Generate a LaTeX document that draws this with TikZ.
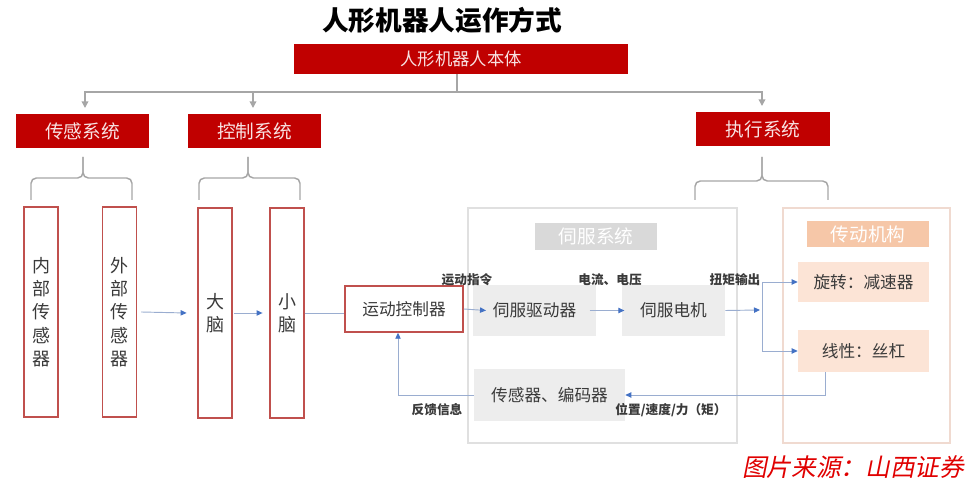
\documentclass[tikz,border=0pt]{standalone}
\usepackage{fontspec}
\setmainfont{Noto Sans CJK SC}
\newfontfamily\srcfont[FakeSlant=0.2]{Noto Sans CJK SC}
\usetikzlibrary{arrows.meta}
\definecolor{hdred}{HTML}{C00000}
\definecolor{hdtext}{HTML}{F8E2E2}
\definecolor{tallred}{HTML}{C0504D}
\definecolor{linegray}{HTML}{A6A6A6}
\definecolor{servoline}{HTML}{E0E0E0}
\definecolor{servohead}{HTML}{D9D9D9}
\definecolor{servofill}{HTML}{EDEDED}
\definecolor{transline}{HTML}{F0DAD0}
\definecolor{transhead}{HTML}{F6C7A8}
\definecolor{transfill}{HTML}{FCE4D6}
\definecolor{bluelink}{HTML}{9AADD0}
\definecolor{bluetip}{HTML}{4472C4}
\definecolor{darktext}{HTML}{3A3A3A}
\definecolor{srcred}{HTML}{E00000}

\begin{document}
\begin{tikzpicture}[x=0.75pt,y=-0.75pt,
    redhead/.style={fill=hdred, text=hdtext, inner sep=0pt, minimum height=25.5pt,
        font=\fontsize{14}{16}\selectfont},
    tallbox/.style={draw=tallred, line width=1.1pt, fill=white, inner sep=0pt,
        minimum width=25.5pt, minimum height=157.5pt, align=center, text=darktext,
        font=\fontsize{13.5}{17.5}\selectfont},
    servobox/.style={fill=servofill, inner sep=0pt, text=darktext,
        minimum height=38.25pt, font=\fontsize{12.5}{15}\selectfont},
    transbox/.style={fill=transfill, inner sep=0pt, text=darktext,
        minimum width=98.25pt, font=\fontsize{12.5}{15}\selectfont},
    sigtext/.style={text=darktext, inner sep=0pt, font=\bfseries\fontsize{9.5}{11}\selectfont},
    brace/.style={draw=linegray, line width=1.1pt, rounded corners=4pt},
    gline/.style={draw=linegray, line width=1.1pt},
    garrow/.style={gline, -{Triangle[length=5pt,width=5pt]}, shorten >=4.5pt},
    bline/.style={draw=bluelink, line width=0.7pt},
    barrow/.style={bline, -{Triangle[length=4.5pt,width=4pt,color=bluetip]}}]
    \useasboundingbox (0,0) rectangle (976,484);

    %% title and the three systems
    \node (title) at (442,20) {\bfseries\fontsize{20}{22}\selectfont 人形机器人运作方式};
    \node[redhead, minimum width=250.5pt, minimum height=22.5pt,
        font=\fontsize{13}{15}\selectfont] (body) at (461,59) {人形机器人本体};
    \node[redhead, minimum width=99.75pt] (sense) at (82.5,131) {传感系统};
    \node[redhead, minimum width=99.75pt] (ctrl) at (254.5,131) {控制系统};
    \node[redhead, minimum width=100.5pt] (exec) at (763,129) {执行系统};

    \coordinate (bus) at (457,92);
    \draw[gline] (body.south -| bus) -- (bus);
    \draw[garrow] (bus) -| (85,114);
    \draw[garrow] (bus) -| (253,114);
    \draw[garrow] (bus) -| (762,112);

    %% braces
    \draw[brace] (31,200) |- (83,178) -- (83,157);
    \draw[brace] (132,200) |- (83,178) -- (83,157);
    \draw[brace] (199,200) |- (248,178) -- (248,157);
    \draw[brace] (300,200) |- (248,178) -- (248,157);
    \draw[brace] (695,200) |- (762,181) -- (762,157);
    \draw[brace] (828,200) |- (762,181) -- (762,157);

    %% sensing and control columns
    \node[tallbox] (inner) at (41,312) {内\\部\\传\\感\\器};
    \node[tallbox] (outer) at (119.5,312) {外\\部\\传\\感\\器};
    \node[tallbox] (brain) at (215,313) {大\\脑};
    \node[tallbox] (cereb) at (287,313) {小\\脑};

    %% servo system
    \node[draw=servoline, line width=0.8pt, minimum width=201.75pt, minimum height=176.25pt,
        inner sep=0pt] (servo) at (602.5,325.5) {};
    \node[fill=servohead, text=white, inner sep=0pt, minimum width=91.5pt, minimum height=20.25pt,
        font=\fontsize{14}{16}\selectfont] (servohd) at (596,236.5) {伺服系统};
    \node[draw=tallred, line width=1.1pt, fill=white, inner sep=0pt, minimum width=88.5pt,
        minimum height=34.5pt, text=darktext, font=\fontsize{12.5}{15}\selectfont] (motion) at (404,309) {运动控制器};
    \node[servobox, minimum width=92.25pt] (drive) at (534.5,310.5) {伺服驱动器};
    \node[servobox, minimum width=77.25pt] (motor) at (673.5,310.5) {伺服电机};
    \node[servobox, minimum width=113.25pt, minimum height=39pt] (encoder) at (549.5,395) {传感器、编码器};

    %% transmission
    \node[draw=transline, line width=0.8pt, minimum width=125.25pt, minimum height=176.25pt,
        inner sep=0pt] (trans) at (866.5,325.5) {};
    \node[fill=transhead, text=white, inner sep=0pt, minimum width=91.5pt, minimum height=19.5pt,
        font=\fontsize{14}{16}\selectfont] (transhd) at (868,234) {传动机构};
    \node[transbox, minimum height=30pt] (rot) at (863.5,282) {旋转：减速器};
    \node[transbox, minimum height=31.5pt] (lin) at (863.5,351) {线性：丝杠};

    %% signal flow
    \draw[barrow] (outer.east) ++(4,0) -- ([xshift=-8pt]brain.west);
    \draw[barrow] (brain.east) ++(1.5,0) -- ([xshift=-5pt]cereb.west);
    \draw[bline] (cereb.east) -- (cereb.east -| motion.west);
    \draw[barrow] (motion.east) -- ([xshift=10pt]drive.west);
    \draw[barrow] ([xshift=-5pt]drive.east) -- ([xshift=2pt]motor.west);

    \coordinate (split) at (762,310);
    \draw[barrow] (motor.east) -- ([xshift=-1.5pt]split);
    \draw[bline] (split |- rot.west) -- (split |- lin.west);
    \draw[barrow] (split |- rot.west) -- (rot.west);
    \draw[barrow] (split |- lin.west) -- (lin.west);

    \coordinate (fbr) at (825,395);
    \coordinate (fbl) at (398,395);
    \draw[barrow] (lin.south -| fbr) -- (fbr) -- (encoder.east);
    \draw[barrow] (encoder.west) -- (fbl) -- (motion.south -| fbl);

    %% signal labels
    \node[sigtext] (cmd) at (467,280) {运动指令};
    \node[sigtext] (volt) at (610,280) {电流、电压};
    \node[sigtext] (torque) at (735,280) {扭矩输出};
    \node[sigtext] (feed) at (437,410) {反馈信息};
    \node[sigtext] (pos) at (671,410) {位置/速度/力（矩）};

    \node[text=srcred, inner sep=0pt] (src) at (853,467) {\srcfont\fontsize{18.5}{21}\selectfont 图片来源：山西证券};
\end{tikzpicture}
\end{document}
